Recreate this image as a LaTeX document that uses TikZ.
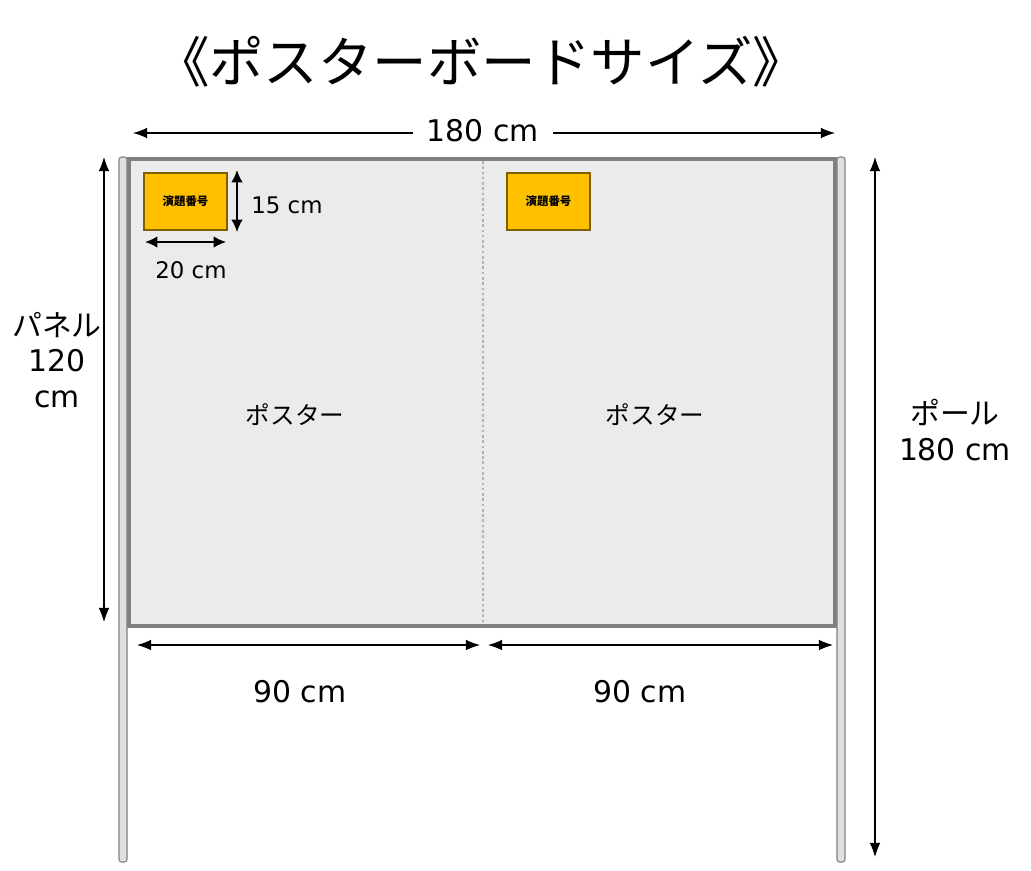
\documentclass[tikz,border=0pt]{standalone}
\usepackage{fontspec}
\setmainfont{DejaVu Sans}
\newfontfamily\jp{Noto Sans CJK JP}
\usepackage{tikz}
\usetikzlibrary{arrows.meta}
\definecolor{panelgray}{HTML}{EBEBEB}
\definecolor{framegray}{HTML}{808080}
\definecolor{numyellow}{HTML}{FFC000}
\definecolor{numbrown}{HTML}{7F6000}
\tikzset{
  dim/.style={{Latex[length=8pt,width=6pt]}-{Latex[length=8pt,width=6pt]}, line width=0.6pt},
  smalldim/.style={{Latex[length=7pt,width=6.5pt]}-{Latex[length=7pt,width=6.5pt]}, line width=0.9pt},
  numbox/.style={draw=numbrown, line width=1.2pt, fill=numyellow, minimum width=47pt, minimum height=32pt, inner sep=0pt, font=\jp\fontsize{6.5}{7}\selectfont\bfseries},
  pole/.style={draw=framegray, fill=black!12, line width=0.6pt, rounded corners=1.5pt},
  big/.style={font=\fontsize{17}{20}\selectfont, align=center}
}
\begin{document}
\begin{tikzpicture}[x=0.02cm,y=-0.02cm]
        \useasboundingbox (0,0) rectangle (1031,870);
        % Draw title
        \node[font=\jp\fontsize{31}{34}\selectfont] (title) at (481,62) {《ポスターボードサイズ》};

        % Draw poles
        \draw[pole] (119,157) rectangle (127,862);
        \draw[pole] (837,157) rectangle (845,862);

        % Draw panel
        \draw[framegray, line width=2.3pt, fill=panelgray] (129,159) rectangle (835,626);
        \draw[black!30, line width=1.1pt, dash pattern=on 1.5pt off 1.5pt] (483,161) -- (483,624);

        % Draw number boxes
        \node[numbox] (numA) at (185.5,201.5) {演題番号};
        \node[numbox] (numB) at (548.5,201.5) {演題番号};
        \node[font=\jp\fontsize{14}{16}\selectfont] (posterA) at (295,415) {ポスター};
        \node[font=\jp\fontsize{14}{16}\selectfont] (posterB) at (655,415) {ポスター};

        % Draw dimension arrows
        \coordinate (topL) at (133,133);
        \coordinate (topR) at (835,133);
        \draw[dim] (topL) -- (topR);
        \node[big, fill=white, inner xsep=8pt, inner ysep=3pt] (width) at (483,131) {180 cm};

        \coordinate (panT) at (104,157);
        \coordinate (panB) at (104,622);
        \draw[dim] (panT) -- (panB);
        \node[big] (panel) at (57,360) {{\jp パネル}\\120\\cm};

        \coordinate (poleT) at (875,157);
        \coordinate (poleB) at (875,857);
        \draw[dim] (poleT) -- (poleB);
        \node[big] (pole) at (955,430) {{\jp ポール}\\180 cm};

        \coordinate (botL) at (137,645);
        \coordinate (botM) at (480,645);
        \coordinate (botN) at (488,645);
        \coordinate (botR) at (833,645);
        \draw[dim] (botL) -- (botM);
        \draw[dim] (botN) -- (botR);
        \node[big] (halfA) at (300,692) {90 cm};
        \node[big] (halfB) at (640,692) {90 cm};

        \coordinate (hT) at (237,170);
        \coordinate (hB) at (237,232);
        \draw[smalldim] (hT) -- (hB);
        \node[font=\fontsize{13}{15}\selectfont] (height) at (287,205) {15 cm};
        \coordinate (wL) at (145,242);
        \coordinate (wR) at (226,242);
        \draw[smalldim] (wL) -- (wR);
        \node[font=\fontsize{13}{15}\selectfont] (wide) at (191,270) {20 cm};
    \end{tikzpicture}
\end{document}
